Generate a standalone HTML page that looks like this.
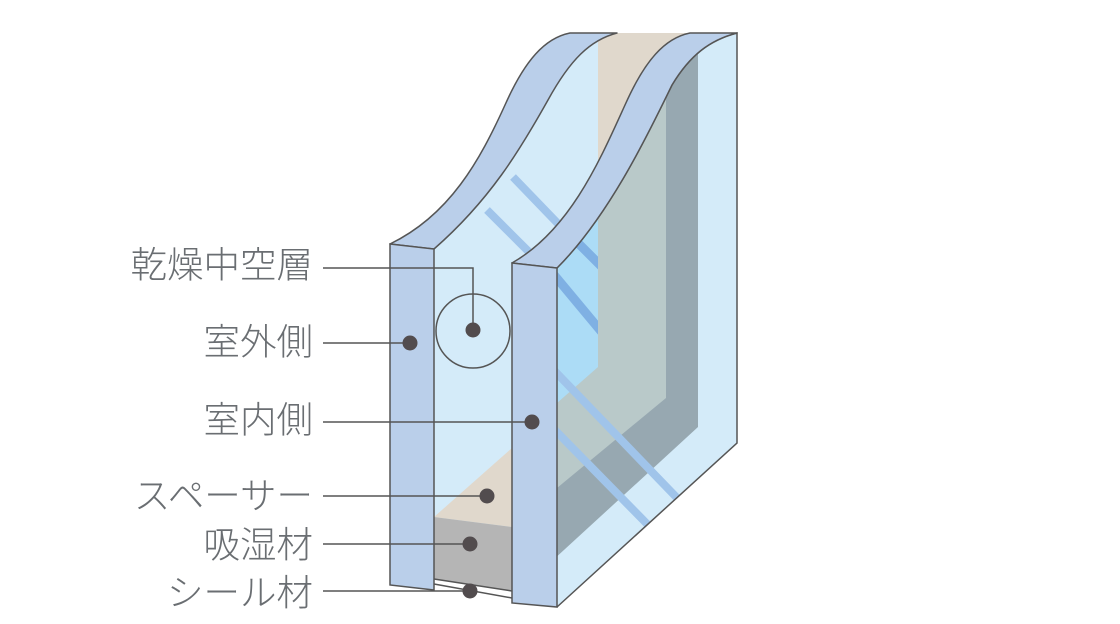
<!DOCTYPE html>
<html><head><meta charset="utf-8"><style>
html,body{margin:0;padding:0;background:#fff;}
svg{display:block;}
text{font-family:"Liberation Sans","Noto Sans CJK JP",sans-serif;font-size:36.5px;fill:#6a6e72;font-weight:300;}
</style></head><body>
<svg width="1120" height="624" viewBox="0 0 1120 624" xmlns="http://www.w3.org/2000/svg">
<defs>
<clipPath id="face2"><path d="M557,268 C610,215 650,130 672,85 C690,55 710,40 737,33 L737,443 L557,607 Z"/></clipPath>
<clipPath id="bright"><path d="M557,418 L598,367 L598,0 L540,0 L540,418 Z"/></clipPath>
<clipPath id="inner"><path d="M434,249 C490,200 520,150 548,100 C570,60 590,40 617,33 L737,33 L737,443 L557,607 L512,600 L434,590 Z"/></clipPath>
</defs>
<path d="M434,249 C490,200 520,150 548,100 C570,60 590,40 617,33 L598,33 L598,300 L512,300 L512,600 L434,590 Z" fill="#d4ebf9"/>
<rect x="598" y="33" width="139" height="300" fill="#e0d8cc"/>
<g clip-path="url(#inner)" stroke="#a0c4ea" stroke-width="8">
<line x1="513" y1="177" x2="620" y2="288"/>
<line x1="487" y1="210" x2="590" y2="313"/>
</g>
<g clip-path="url(#face2)">
<rect x="540" y="20" width="220" height="600" fill="#d4ebf9"/>
<path d="M540,572 L698,427 L698,0 L540,0 Z" fill="#97a8b1"/>
<path d="M540,502 L666,398 L666,0 L540,0 Z" fill="#b9c9c9"/>
<path d="M540,418 L598,367 L598,0 L540,0 Z" fill="#acdcf6"/>
<g clip-path="url(#bright)" stroke="#7fb0e3" stroke-width="9">
<line x1="540" y1="258" x2="610" y2="342"/>
<line x1="560" y1="225" x2="610" y2="275"/>
</g>
<g stroke="#a0c4ea" stroke-width="8">
<line x1="545" y1="361" x2="680" y2="501"/>
<line x1="545" y1="420" x2="652" y2="529"/>
</g>
</g>
<path d="M434,517 L512,448 L512,527 Z" fill="#e0d8cc"/>
<path d="M434,517 L512,527 L512,591 L434,579 Z" fill="#b5b5b5"/>
<path d="M434,579 L512,591 L512,605 L434,592 Z" fill="#fff"/>
<path d="M434,579 L512,591 M434,584 L512,598" stroke="#555" stroke-width="1.5" fill="none"/>
<path d="M557,268 C610,215 650,130 672,85 C690,55 710,40 737,33 L737,443 L557,607" fill="none" stroke="#555" stroke-width="1.5"/>
<path d="M512,263 C570,230 600,160 625,105 C645,60 665,38 690,33 L737,33 C710,40 690,55 672,85 C650,130 610,215 557,268 Z" fill="#bacfea" stroke="#555" stroke-width="1.5" stroke-linejoin="round"/>
<path d="M512,263 L557,268 L557,607 L512,603 Z" fill="#bacfea" stroke="#555" stroke-width="1.5"/>
<path d="M390,244 C450,215 480,160 505,105 C525,60 545,38 570,33 L617,33 C590,40 570,60 548,100 C520,150 490,200 434,249 Z" fill="#bacfea" stroke="#555" stroke-width="1.5" stroke-linejoin="round"/>
<path d="M390,244 L434,249 L434,590 L390,585 Z" fill="#bacfea" stroke="#555" stroke-width="1.5"/>
<circle cx="473" cy="331" r="37" fill="none" stroke="#555" stroke-width="1.5"/>
<g stroke="#555" stroke-width="1.5" fill="none">
<path d="M323,268 L473,268 L473,330"/>
<line x1="323" y1="343" x2="410" y2="343"/>
<line x1="323" y1="422" x2="532" y2="422"/>
<line x1="323" y1="496" x2="487" y2="496"/>
<line x1="323" y1="544" x2="470" y2="544"/>
<line x1="323" y1="591" x2="470" y2="591"/>
</g>
<g fill="#524c4e">
<circle cx="473" cy="330" r="7.5"/>
<circle cx="410" cy="343" r="7.5"/>
<circle cx="532" cy="422" r="7.5"/>
<circle cx="487" cy="496" r="7.5"/>
<circle cx="470" cy="544" r="7.5"/>
<circle cx="470" cy="591" r="7.5"/>
</g>
<g text-anchor="end" dominant-baseline="central">
<text x="313" y="265">乾燥中空層</text>
<text x="313" y="342">室外側</text>
<text x="313" y="420">室内側</text>
<text x="313" y="496">スペーサー</text>
<text x="313" y="545">吸湿材</text>
<text x="313" y="593">シール材</text>
</g>
</svg>
</body></html>
